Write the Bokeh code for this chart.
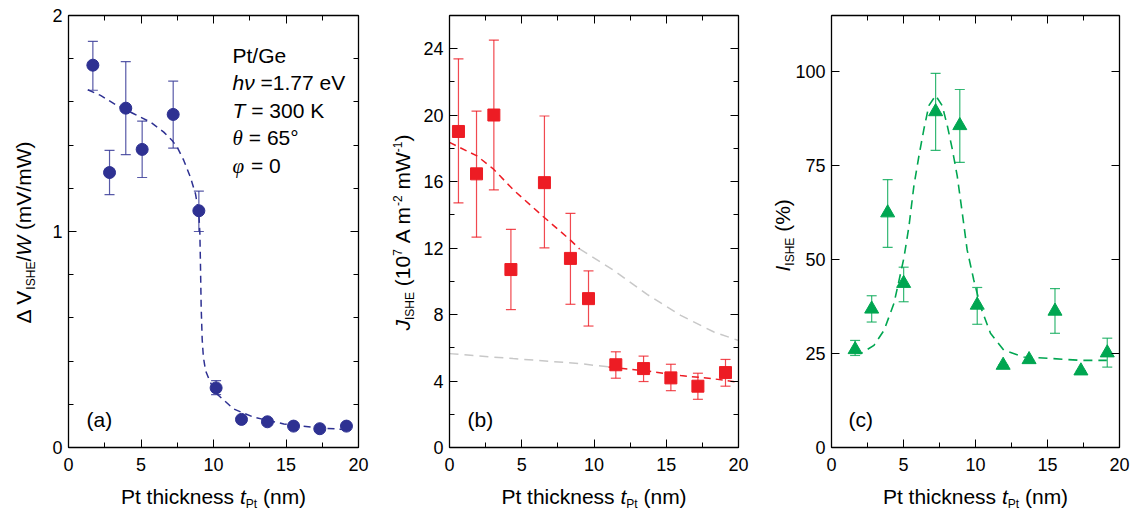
import math
from bokeh.plotting import figure
from bokeh.layouts import row
from bokeh.models import (Range1d, LinearAxis, SingleIntervalTicker, Label,
                          Whisker, TeeHead, ColumnDataSource)
from bokeh.embed import file_html
from bokeh.resources import INLINE

FONT = "Liberation Sans"
SERIF = "Liberation Serif"

# ---------------- data: panel (a) ----------------
xa = [1.68, 2.83, 3.95, 5.08, 7.22, 8.99, 10.18, 11.93, 13.72, 15.52, 17.33, 19.17]
ya = [1.77, 1.273, 1.571, 1.38, 1.542, 1.096, 0.276, 0.13, 0.119, 0.099, 0.087, 0.099]
ya_hi = [1.88, 1.376, 1.786, 1.511, 1.696, 1.187, 0.31, 0.13, 0.119, 0.099, 0.087, 0.099]
ya_lo = [1.654, 1.171, 1.356, 1.25, 1.386, 1.0, 0.245, 0.13, 0.119, 0.099, 0.087, 0.099]
fa_x = [1.33, 2.21, 3.36, 4.5, 5.66, 6.57, 7.15, 7.5, 7.95, 8.41, 8.76, 8.99, 9.06,
        9.1, 9.15, 9.22, 9.3, 9.45, 9.79, 10.25, 11.4, 12.78, 14.85, 17.15, 19.22]
fa_y = [1.656, 1.63, 1.583, 1.545, 1.506, 1.46, 1.421, 1.39, 1.329, 1.251, 1.174, 1.082, 0.99,
        0.85, 0.65, 0.5, 0.42, 0.356, 0.30, 0.247, 0.178, 0.14, 0.109, 0.091, 0.083]

# ---------------- data: panel (b) ----------------
xb = [0.62, 1.87, 3.07, 4.25, 6.57, 8.37, 9.62, 11.51, 13.43, 15.32, 17.19, 19.1]
yb = [19.02, 16.47, 20.01, 10.71, 15.94, 11.38, 8.96, 4.98, 4.75, 4.19, 3.69, 4.51]
yb_hi = [23.39, 20.25, 24.52, 13.13, 19.95, 14.09, 10.63, 5.76, 5.5, 5.01, 4.47, 5.3]
yb_lo = [14.72, 12.66, 15.5, 8.3, 12.02, 8.62, 7.31, 4.17, 3.97, 3.42, 2.9, 3.69]
fb1_red_x = [0.0, 1.9, 3.05, 4.43, 6.5, 8.37, 9.0]
fb1_red_y = [18.36, 17.55, 16.75, 15.5, 13.89, 12.48, 11.95]
fb1_gray_x = [9.0, 11.3, 13.7, 16.0, 18.3, 20.0]
fb1_gray_y = [11.95, 10.7, 9.2, 7.95, 6.95, 6.44]
fb2_gray_x = [0.0, 4.4, 9.0, 11.0]
fb2_gray_y = [5.65, 5.35, 5.05, 4.85]
fb2_red_x = [11.0, 13.7, 16.0, 18.3, 20.0]
fb2_red_y = [4.85, 4.6, 4.33, 4.13, 3.93]

# ---------------- data: panel (c) ----------------
xc = [1.64, 2.79, 3.9, 5.01, 7.23, 8.91, 10.12, 11.92, 13.72, 15.52, 17.32, 19.15]
yc = [26.07, 36.86, 62.47, 43.7, 89.4, 85.7, 37.9, 21.9, 23.4, 36.3, 20.4, 25.2]
yc_hi = [28.5, 40.4, 71.3, 48.0, 99.6, 95.3, 42.6, 21.9, 23.4, 42.3, 20.4, 29.1]
yc_lo = [24.5, 33.4, 53.3, 38.8, 79.1, 75.9, 32.8, 21.9, 23.4, 30.4, 20.4, 21.4]
fc_x = [1.57, 2.03, 2.95, 3.65, 4.34, 4.8, 5.03, 5.38, 5.72, 6.07, 6.42, 6.76, 7.23, 7.69,
        8.04, 8.39, 8.73, 9.08, 9.42, 9.88, 10.35, 11.04, 11.96, 13.35, 15.2, 17.28, 19.12]
fc_y = [25.4, 25.0, 27.2, 31.2, 38.4, 46.4, 50.5, 58.9, 69.6, 77.6, 84.8, 91.0, 93.7, 91.0,
        85.7, 79.4, 72.3, 62.5, 52.6, 44.6, 37.5, 30.4, 25.9, 24.1, 23.7, 23.2, 23.2]

NAVY = "#2E3192"
RED = "#ED1C24"
GREEN = "#00A651"
GRAY = "#C8C8C8"

H = 510           # figure height (page pixels)
FT, FB = 15, 447  # frame top / bottom (page pixels)
BASE_FIX = 0.38   # empirical baseline correction (fraction of font size)

# Arial / Liberation Sans advance widths (per 1000 em)
WID = {' ': 278, '(': 333, ')': 333, '%': 889, '-': 333, '.': 278, '/': 278, '=': 584,
       '°': 400, 'A': 667, 'E': 667, 'G': 778, 'H': 722, 'I': 278, 'J': 500, 'K': 667,
       'P': 667, 'S': 667, 'T': 611, 'V': 667, 'W': 944, 'a': 556, 'b': 556, 'c': 500,
       'e': 556, 'h': 556, 'i': 222, 'k': 500, 'm': 833, 'n': 556, 's': 500, 't': 278,
       'v': 500, 'ν': 500, 'Δ': 668, 'θ': 500, 'φ': 600}


def tw(s, size):
    return sum(WID.get(c, 556) for c in s) * size / 1000.0


def compose(p, fig_left, pieces, px, py, angle=0.0):
    """pieces: (text, size, italic, shift[, font]); px/py are page pixels of the start/baseline."""
    sx0 = px - fig_left
    sy0 = H - py
    pos = 0.0
    for piece in pieces:
        text, size, italic, shift = piece[:4]
        font = piece[4] if len(piece) > 4 else FONT
        shift = shift + BASE_FIX * size
        lead = len(text) - len(text.lstrip(' '))
        pos += tw(' ' * lead, size)
        t = text.strip(' ')
        if angle == 0:
            x, y = sx0 + pos, sy0 + shift
        else:
            x, y = sx0 - shift, sy0 + pos
        if t:
            p.add_layout(Label(x=x, y=y, x_units="screen", y_units="screen", text=t,
                               text_font=font, text_font_size=f"{size}px",
                               text_font_style="italic" if italic else "normal",
                               text_color="black", angle=angle, text_align="left",
                               text_baseline="alphabetic"))
        pos += tw(t, size) + tw(' ' * (len(text) - lead - len(t)), size)


def style_axis(ax, labels, standoff):
    ax.axis_line_color = "black"
    ax.axis_line_width = 1.3
    ax.major_tick_in = 8
    ax.major_tick_out = 0
    ax.minor_tick_in = 5
    ax.minor_tick_out = 0
    ax.major_tick_line_color = "black"
    ax.minor_tick_line_color = "black"
    ax.major_tick_line_width = 1
    ax.minor_tick_line_width = 1
    ax.major_label_standoff = standoff
    if labels:
        ax.major_label_text_font = FONT
        ax.major_label_text_font_size = "18px"
        ax.major_label_text_color = "black"
    else:
        ax.major_label_text_color = None


def make_fig(fig_left, fig_w, fl, fr, ymax, yint, yminor):
    ppx = (fr - fl) / 20.0
    x0 = -(fl - fig_left) / ppx
    x1 = 20 + (fig_left + fig_w - fr) / ppx
    ppy = (FB - FT) / float(ymax)
    y0 = -(H - FB) / ppy
    y1 = ymax + FT / ppy
    p = figure(width=fig_w, height=H, x_range=Range1d(x0, x1), y_range=Range1d(y0, y1),
               toolbar_location=None, output_backend="svg", x_axis_type=None, y_axis_type=None,
               min_border=0)
    p.outline_line_color = None
    p.background_fill_color = "white"
    p.border_fill_color = "white"
    for side, loc in (("below", 0), ("above", ymax)):
        ax = LinearAxis(ticker=SingleIntervalTicker(interval=5, num_minor_ticks=2),
                        fixed_location=loc, bounds=(0, 20))
        style_axis(ax, side == "below", 10)
        p.add_layout(ax, side)
    for side, loc in (("left", 0), ("right", 20)):
        ax = LinearAxis(ticker=SingleIntervalTicker(interval=yint, num_minor_ticks=yminor),
                        fixed_location=loc, bounds=(0, ymax))
        style_axis(ax, side == "left", 6)
        p.add_layout(ax, side)
    return p


def errbars(p, x, lo, hi, color):
    src = ColumnDataSource(dict(x=x, lo=lo, hi=hi))
    w = Whisker(source=src, base="x", lower="lo", upper="hi", line_color=color,
                line_width=1.2, line_alpha=0.8, level="underlay",
                upper_head=TeeHead(size=10, line_color=color, line_width=1.2, line_alpha=0.8),
                lower_head=TeeHead(size=10, line_color=color, line_width=1.2, line_alpha=0.8))
    p.add_layout(w)


def xlabel(p, fig_left, fl, fr):
    pieces = [("Pt thickness ", 21, False, 0), ("t", 21, True, 0), ("Pt", 12, False, -4),
              (" (nm)", 21, False, 0)]
    total = sum(tw(t, s) for t, s, _, _ in pieces)
    compose(p, fig_left, pieces, (fl + fr) / 2.0 - total / 2.0, 504)


# ---------------- panel (a) ----------------
LA, WA, FLA, FRA = 0, 378, 68, 358
pa = make_fig(LA, WA, FLA, FRA, 2, 1, 5)
pa.line(fa_x, fa_y, color=NAVY, line_width=1.5, line_dash="7 5")
errbars(pa, xa, ya_lo, ya_hi, NAVY)
pa.scatter(xa, ya, marker="circle", size=12, color=NAVY)
xlabel(pa, LA, FLA, FRA)
compose(pa, LA, [("Δ V", 21, False, 0), ("ISHE", 12, False, -4), ("/", 21, False, 0),
                 ("W", 21, True, 0), (" (mV/mW)", 21, False, 0)], 31, 323, angle=math.pi / 2)
compose(pa, LA, [("(a)", 21, False, 0)], 86, 427)
compose(pa, LA, [("Pt/Ge", 21, False, 0)], 232, 63)
compose(pa, LA, [("hν", 21, True, 0), (" =1.77 eV", 21, False, 0)], 232, 90)
compose(pa, LA, [("T", 21, True, 0), (" = 300 K", 21, False, 0)], 232, 118)
compose(pa, LA, [("θ", 21, True, 0, SERIF), (" = 65°", 21, False, 0)], 232, 145)
compose(pa, LA, [("φ", 21, True, 0, SERIF), (" = 0", 21, False, 0)], 232, 173)

# ---------------- panel (b) ----------------
LB, WB, FLB, FRB = 378, 380, 449, 738
pb = make_fig(LB, WB, FLB, FRB, 26, 4, 2)
pb.line(fb1_gray_x, fb1_gray_y, color=GRAY, line_width=1.5, line_dash="9 6")
pb.line(fb2_gray_x, fb2_gray_y, color=GRAY, line_width=1.5, line_dash="9 6")
pb.line(fb1_red_x, fb1_red_y, color=RED, line_width=1.5, line_dash="7 5")
pb.line(fb2_red_x, fb2_red_y, color=RED, line_width=1.5, line_dash="7 5")
errbars(pb, xb, yb_lo, yb_hi, RED)
pb.scatter(xb, yb, marker="square", size=12, color=RED)
xlabel(pb, LB, FLB, FRB)
compose(pb, LB, [("J", 21, True, 0), ("ISHE", 12, False, -4), (" (10", 21, False, 0),
                 ("7", 12, False, 8), (" A m", 21, False, 0), ("-2", 12, False, 8),
                 (" mW", 21, False, 0), ("-1", 12, False, 8), (")", 21, False, 0)],
        410, 330, angle=math.pi / 2)
compose(pb, LB, [("(b)", 21, False, 0)], 467, 427)

# ---------------- panel (c) ----------------
LC, WC, FLC, FRC = 758, 378, 831, 1119
pc = make_fig(LC, WC, FLC, FRC, 115, 25, 0)
pc.line(fc_x, fc_y, color=GREEN, line_width=1.6, line_dash="9 6")
errbars(pc, xc, yc_lo, yc_hi, GREEN)
pc.scatter(xc, yc, marker="triangle", size=14, color=GREEN)
xlabel(pc, LC, FLC, FRC)
compose(pc, LC, [("I", 21, True, 0), ("ISHE", 12, False, -4), (" (%)", 21, False, 0)],
        790, 271, angle=math.pi / 2)
compose(pc, LC, [("(c)", 21, False, 0)], 848, 427)

layout = row(pa, pb, pc)
open("out.html", "w").write(file_html(layout, INLINE))
